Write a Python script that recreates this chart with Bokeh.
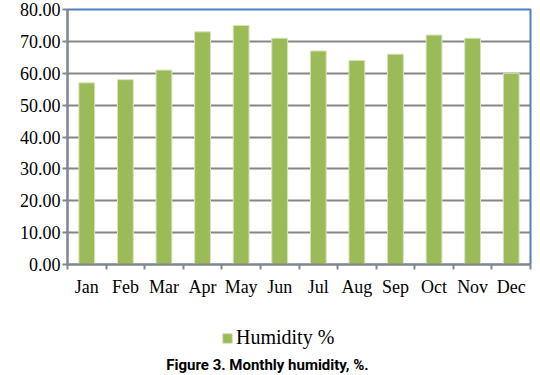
from bokeh.plotting import figure
from bokeh.models import FixedTicker, NumeralTickFormatter, Range1d, Label, ColumnDataSource
from bokeh.layouts import column
from bokeh.embed import file_html
from bokeh.resources import INLINE

months = ["Jan", "Feb", "Mar", "Apr", "May", "Jun", "Jul", "Aug", "Sep", "Oct", "Nov", "Dec"]
humidity = [57, 58, 61, 73, 75, 71, 67, 64, 66, 72, 71, 60]
y_ticks = [0, 10, 20, 30, 40, 50, 60, 70, 80]
series_name = "Humidity %"
caption = "Figure 3. Monthly humidity, %."

positions = list(range(1, len(months) + 1))
boundaries = [i + 0.5 for i in range(len(months) + 1)]
src = ColumnDataSource(dict(x=positions, top=humidity, month=months))

GRAY = "#868686"
SERIF = "Liberation Serif"
BAR = "#9BBB59"
BAR_EDGE = "#D7E4BD"

p = figure(width=532, height=308, output_backend="svg", toolbar_location=None,
           x_range=Range1d(0.5, len(months) + 0.5), y_range=Range1d(0, 80),
           min_border_left=67, min_border_right=2, min_border_top=9, min_border_bottom=44)

p.vbar(x="x", top="top", width=0.41, source=src, fill_color=BAR,
       line_color=BAR_EDGE, line_width=1)

p.outline_line_color = "#4F81BD"
p.outline_line_width = 2
p.background_fill_color = "white"
p.border_fill_color = "white"

p.xgrid.visible = False
p.ygrid.grid_line_color = GRAY
p.ygrid.grid_line_width = 2

ya = p.yaxis[0]
ya.ticker = FixedTicker(ticks=y_ticks)
ya.formatter = NumeralTickFormatter(format="0.00")
ya.major_label_text_font = SERIF
ya.major_label_text_font_size = "18px"
ya.major_label_text_color = "#000000"
ya.major_tick_out = 5
ya.major_tick_in = 0
ya.minor_tick_line_color = None
ya.axis_line_color = GRAY
ya.axis_line_width = 2
ya.major_tick_line_color = GRAY
ya.major_tick_line_width = 2
ya.major_label_standoff = 2

xa = p.xaxis[0]
xa.ticker = FixedTicker(ticks=positions, minor_ticks=boundaries)
xa.major_label_overrides = {pos: m for pos, m in zip(positions, months)}
xa.major_label_text_font = SERIF
xa.major_label_text_font_size = "18px"
xa.major_label_text_color = "#000000"
xa.major_tick_line_color = None
xa.major_tick_out = 5
xa.major_tick_in = 0
xa.minor_tick_line_color = GRAY
xa.minor_tick_line_width = 2
xa.minor_tick_out = 5
xa.minor_tick_in = 0
xa.axis_line_color = GRAY
xa.axis_line_width = 2
xa.major_label_standoff = 7

# legend panel (the series lies outside this panel's ranges; only its legend entry shows)
p2 = figure(width=532, height=46, output_backend="svg", toolbar_location=None,
            x_range=Range1d(20, 21), y_range=Range1d(100, 101),
            x_axis_location=None, y_axis_location=None,
            min_border_left=67, min_border_right=2, min_border_top=0, min_border_bottom=0)
p2.outline_line_color = None
p2.grid.visible = False
p2.vbar(x="x", top="top", width=0.41, source=src, fill_color=BAR, line_color=BAR_EDGE,
        legend_label=series_name)

leg = p2.legend[0]
leg.location = (154, 5)
leg.padding = 0
leg.margin = 0
leg.spacing = 0
leg.glyph_width = 12
leg.glyph_height = 12
leg.label_height = 12
leg.label_standoff = 3
leg.label_text_font = "serif"
leg.label_text_font_style = "normal"
leg.label_text_font_size = "20px"
leg.label_text_color = "#000000"
leg.background_fill_alpha = 0
leg.border_line_alpha = 0

# caption panel
p3 = figure(width=532, height=20, output_backend="svg", toolbar_location=None,
            x_range=Range1d(0, 1), y_range=Range1d(0, 1),
            x_axis_location=None, y_axis_location=None,
            min_border_left=67, min_border_right=2, min_border_top=0, min_border_bottom=0)
p3.outline_line_color = None
p3.grid.visible = False
cap = Label(x=200, y=10, x_units="screen", y_units="screen", text=caption,
            text_font="Roboto", text_font_style="bold",
            text_font_size="15px", text_align="center", text_baseline="middle",
            text_color="#000000")
p3.add_layout(cap)

layout = column(p, p2, p3, spacing=0)
open("out.html", "w").write(file_html(layout, INLINE))
